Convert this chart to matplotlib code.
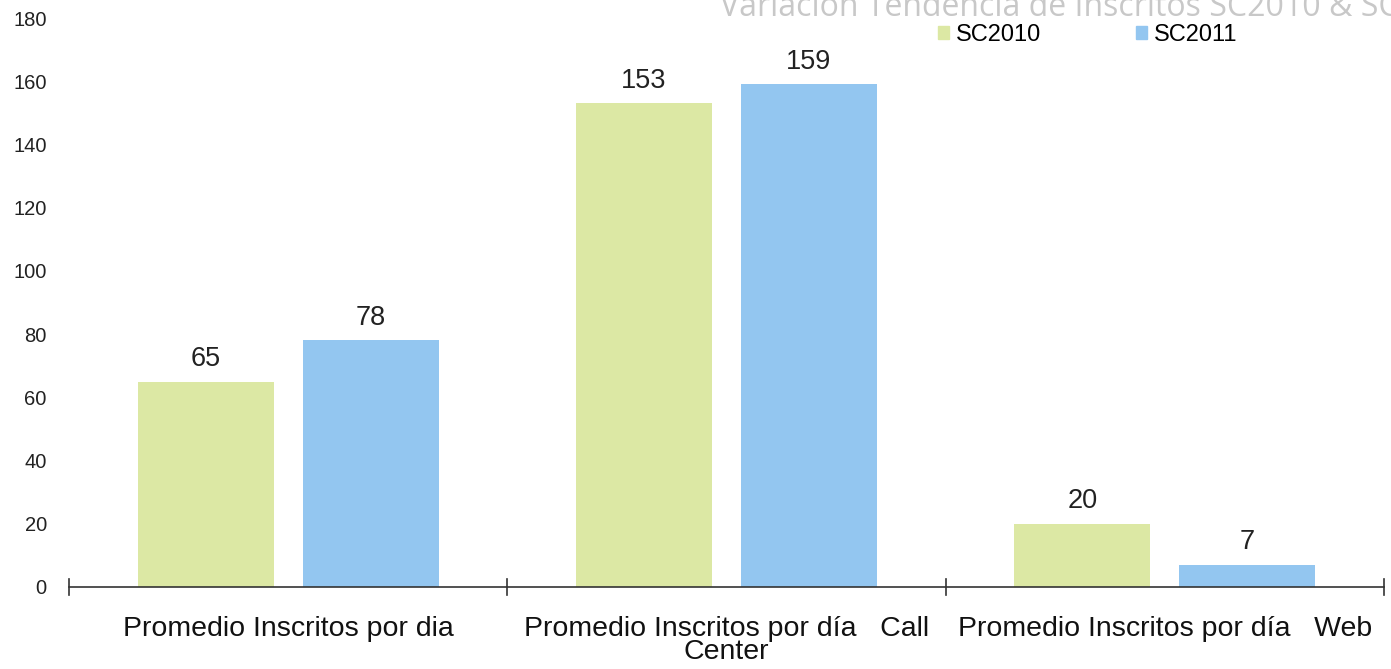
import matplotlib
matplotlib.use("Agg")
import matplotlib.pyplot as plt
from matplotlib.patches import Patch
import numpy as np

plt.rcParams['font.family'] = ['Liberation Sans', 'DejaVu Sans']

categories = ["Promedio Inscritos por dia",
              "Promedio Inscritos por día   Call\nCenter",
              "Promedio Inscritos por día   Web"]
series_names = ["SC2010", "SC2011"]
sc2010 = [65, 153, 20]
sc2011 = [78, 159, 7]
yticks = [0, 20, 40, 60, 80, 100, 120, 140, 160, 180]
title = "Variación Tendencia de Inscritos SC2010 & SC2011"

green = "#dce8a4"
blue = "#93c6f0"

W, H = 1391, 669
fig = plt.figure(figsize=(W / 100, H / 100), dpi=100)
ax = fig.add_axes([69 / W, 1 - 587 / H, (1384 - 69) / W, (587 - 18) / H])

x = np.arange(len(categories))
bw = 0.31
off = 0.188
b1 = ax.bar(x - off, sc2010, bw, color=green, label=series_names[0])
b2 = ax.bar(x + off, sc2011, bw, color=blue, label=series_names[1])
for bars in (b1, b2):
    for r in bars:
        ax.annotate(f"{int(r.get_height())}", (r.get_x() + r.get_width() / 2, r.get_height()),
                    xytext=(0, 7), textcoords="offset points", ha="center", va="bottom",
                    fontsize=19.5, color="#222222")

ax.set_xlim(-0.5, len(categories) - 0.5)
ax.set_ylim(0, 180)
ax.set_yticks(yticks)
ax.tick_params(axis='y', length=0, pad=16, labelsize=14.5, labelcolor="#222222")
for s in ["top", "right", "left"]:
    ax.spines[s].set_visible(False)
ax.spines["bottom"].set_color("#333333")
ax.spines["bottom"].set_linewidth(1.2)

ax.set_xticks(x)
ax.set_xticklabels(categories, fontsize=20.5, color="#111111", linespacing=0.85)
ax.tick_params(axis='x', length=0, pad=21)
# boundary ticks on category axis
for b in np.arange(-0.5, len(categories), 1.0):
    ax.plot([b, b], [-2.5, 2.5], color="#333333", lw=1.2, clip_on=False)

fig.text(720 / W, 1 - 16 / H, title, fontsize=23, color="#c8c8c8",
         family=['Open Sans', 'DejaVu Sans'], ha="left", va="baseline")

handles = [Patch(color=green, label=series_names[0]), Patch(color=blue, label=series_names[1])]
fig.legend(handles=handles, loc="center left", bbox_to_anchor=(938 / W, 1 - 35 / H), ncol=2,
           frameon=False, fontsize=17, handlelength=0.47, handleheight=0.47, handletextpad=0.3,
           columnspacing=4.0, borderaxespad=0, borderpad=0)

fig.savefig("out.png", dpi=100)
